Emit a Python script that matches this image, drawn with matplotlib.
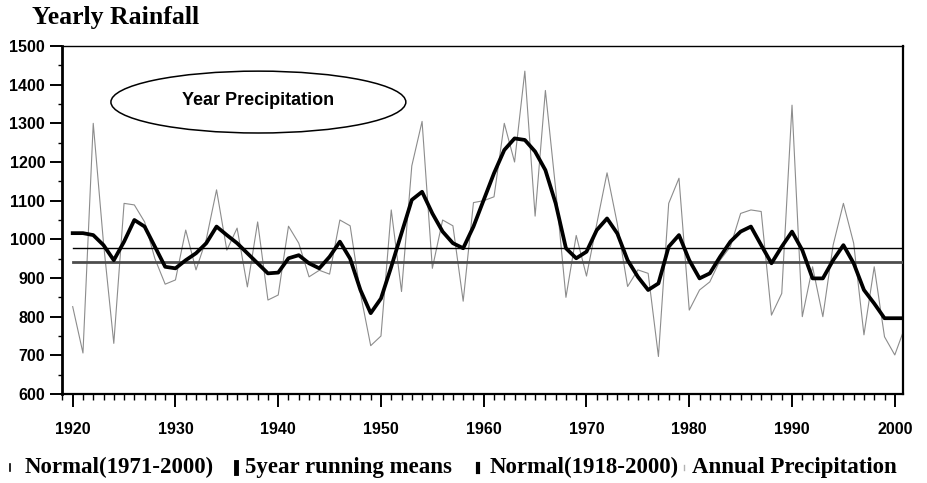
import matplotlib
matplotlib.use("Agg")
import matplotlib.pyplot as plt
from matplotlib.patches import Ellipse
from matplotlib.lines import Line2D
from matplotlib.ticker import MultipleLocator

years = list(range(1920, 2002))
annual_precipitation = [
    826, 706, 1300, 990, 731, 1093, 1089, 1045, 950, 884,
    895, 1024, 921, 1000, 1128, 972, 1029, 877, 1045, 843,
    856, 1034, 990, 903, 920, 910, 1050, 1035, 860, 725,
    750, 1076, 865, 1190, 1305, 925, 1050, 1035, 840, 1095,
    1100, 1110, 1300, 1200, 1435, 1060, 1385, 1130, 850, 1010,
    905, 1040, 1172, 1040, 878, 921, 912, 697, 1093, 1158,
    817, 869, 890, 946, 981, 1067, 1076, 1072, 804, 860,
    1347, 800, 929, 800, 985, 1093, 990, 753, 929, 748,
    701, 774,
]
running_mean_5yr = [
    1016, 1016, 1011, 985, 946, 994, 1050, 1033, 981, 929,
    925, 946, 964, 990, 1033, 1011, 990, 964, 938, 912,
    914, 951, 959, 938, 925, 955, 994, 950, 869, 809,
    847, 929, 1016, 1102, 1123, 1067, 1020, 990, 977, 1033,
    1102, 1171, 1231, 1261, 1257, 1227, 1179, 1093, 977, 951,
    968, 1024, 1054, 1015, 946, 903, 869, 886, 981, 1011,
    946, 899, 912, 955, 994, 1020, 1033, 985, 938, 981,
    1020, 972, 899, 899, 946, 985, 938, 869, 834, 796,
    796, 796,
]
normal_1971_2000 = 977
normal_1918_2000 = 942
x_ticks = [1920, 1930, 1940, 1950, 1960, 1970, 1980, 1990, 2000]
y_ticks = [600, 700, 800, 900, 1000, 1100, 1200, 1300, 1400, 1500]
title = "Yearly Rainfall"
annotation = "Year Precipitation"
legend_labels = ["Normal(1971-2000)", "5year running means",
                 "Normal(1918-2000)", "Annual Precipitation"]

W, H = 928, 483
fig = plt.figure(figsize=(W / 100, H / 100), dpi=100)
ax = fig.add_axes([62 / W, 1 - 394 / H, (903 - 62) / W, (394 - 46) / H])

ax.plot(years, annual_precipitation, color="0.55", lw=0.8, zorder=2)
ax.plot([years[0], years[-1]], [normal_1918_2000] * 2, color="0.3", lw=2.0, zorder=3)
ax.plot([years[0], years[-1]], [normal_1971_2000] * 2, color="black", lw=1.0, zorder=3)
ax.plot(years, running_mean_5yr, color="black", lw=2.7, zorder=4,
        solid_joinstyle="round")

ax.set_xlim(1918.96, 2000.8)
ax.set_ylim(600, 1500)
ax.set_xticks(x_ticks)
ax.set_yticks(y_ticks)
ax.xaxis.set_minor_locator(MultipleLocator(1))
ax.yaxis.set_minor_locator(MultipleLocator(50))

for lab in ax.get_xticklabels() + ax.get_yticklabels():
    lab.set_fontfamily("Liberation Sans")
    lab.set_fontweight("bold")
    lab.set_fontsize(11.5)

ax.tick_params(axis="x", which="major", length=9.4, width=1.4, pad=11, direction="out")
ax.tick_params(axis="x", which="minor", length=4.3, width=1.0, direction="out")
ax.tick_params(axis="y", which="major", length=8.6, width=1.4, pad=3.5, direction="out")
ax.tick_params(axis="y", which="minor", length=3.0, width=1.0, direction="out")

ax.spines["left"].set_linewidth(2.0)
ax.spines["bottom"].set_linewidth(1.6)
ax.spines["top"].set_linewidth(1.0)
ax.spines["right"].set_linewidth(1.6)

ell = Ellipse((1938.07, 1355), 28.7, 160, fill=False, edgecolor="black", lw=1.1, zorder=5)
ax.add_patch(ell)
ax.text(1938.0, 1360, annotation, ha="center", va="center",
        fontfamily="Liberation Sans", fontweight="bold", fontsize=13, zorder=6)

fig.text(32 / W, 1 - 17.5 / H, title, ha="left", va="center",
         fontfamily="Liberation Serif", fontweight="bold", fontsize=18.5)

# legend drawn in figure pixels
ly = 1 - 467.5 / H
leg_items = [
    (10, 25, dict(color="black", lw=1.2), 7),
    (236, 245, dict(color="black", lw=3.5), 11),
    (478, 490, dict(color="black", lw=3.0), 8),
    (684, 692, dict(color="0.7", lw=1.0), 5),
]
for (mx, tx, style, hpx), lab in zip(leg_items, legend_labels):
    fig.add_artist(Line2D([mx / W, mx / W], [ly - hpx / 2 / H, ly + hpx / 2 / H], **style))
    fig.text(tx / W, ly, lab, ha="left", va="center",
             fontfamily="Liberation Serif", fontweight="bold", fontsize=16.5)

fig.savefig("out.png", dpi=100)
